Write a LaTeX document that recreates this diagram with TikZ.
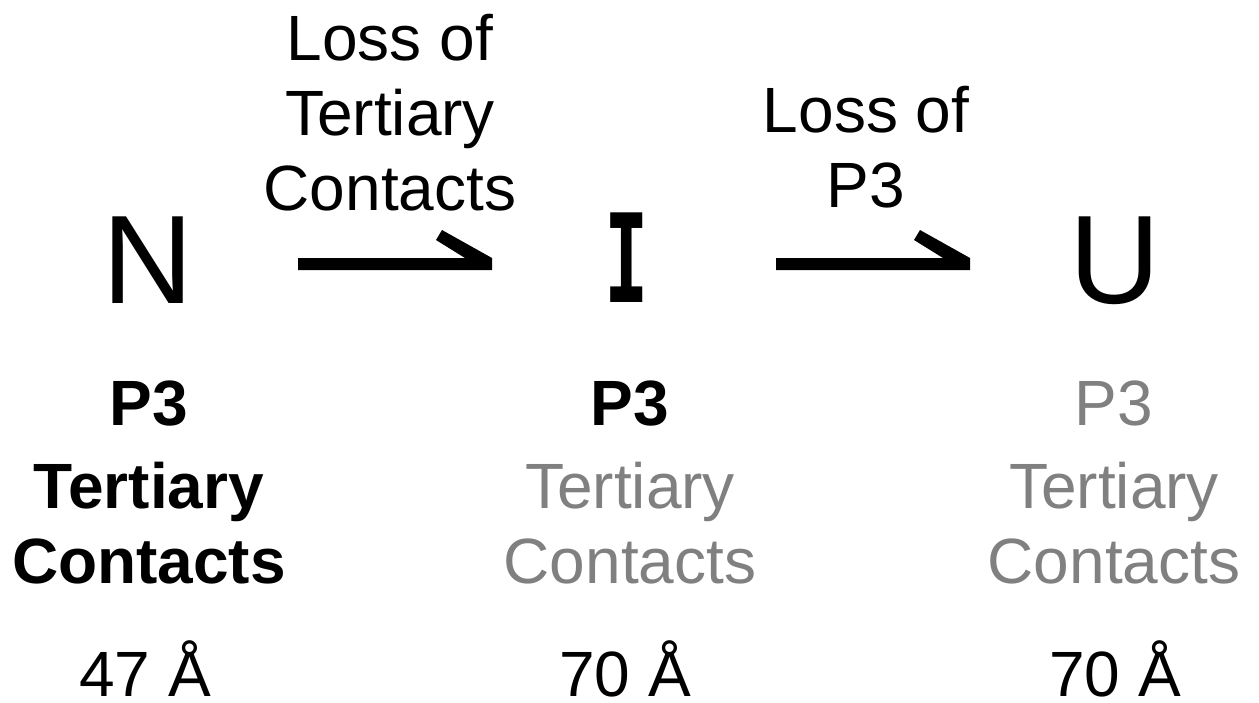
\documentclass[tikz,border=0pt]{standalone}
\usepackage{fontspec}
\setmainfont{Liberation Sans}
\newfontfamily\Ifont[FakeStretch=0.6]{DejaVu Sans Mono}
\usetikzlibrary{calc}
\definecolor{fade}{RGB}{128,128,128}
\begin{document}
\begin{tikzpicture}[x=1pt,y=-1pt,
  big/.style={font=\fontsize{126}{126}\selectfont, inner sep=0pt, anchor=base},
  lab/.style={font=\fontsize{64}{75}\selectfont, align=center, inner sep=0pt, anchor=base},
  harp/.style={fill=black}]
\useasboundingbox (0,0) rectangle (1259,702);
% states
\node[big] (N) at (148,303) {N};
\node[big, font={\Ifont\bfseries\fontsize{123}{123}\selectfont}] (I) at (627,302) {I};
\node[big] (U) at (1115,303) {U};
% transition labels (anchor = baseline of last line)
\node[lab] (t1) at (390,210) {Loss of\\Tertiary\\Contacts};
\node[lab] (t2) at (866,207) {Loss of\\P3};
% arrows
\coordinate (a1s) at (298,264);
\coordinate (a1e) at (492,264);
\coordinate (a2s) at (776,264);
\coordinate (a2e) at (970,264);
\foreach \s/\e in {a1s/a1e,a2s/a2e}{
  \fill[harp] ($(\s)+(0,-6)$) -- ($(\e)+(-27,-6)$) -- ($(\e)+(-56,-24)$) -- ($(\e)+(-50,-34)$)
     -- ($(\e)+(0,-6)$) -- ($(\e)+(0,6)$) -- ($(\s)+(0,6)$) -- cycle;
}
% state descriptions
\node[lab] (dN) at (149,583) {\textbf{P3}\\[8pt]\textbf{Tertiary}\\\textbf{Contacts}};
\node[lab] (dI) at (630,583) {\textbf{P3}\\[8pt]\textcolor{fade}{Tertiary}\\\textcolor{fade}{Contacts}};
\node[lab] (dU) at (1114,583) {\textcolor{fade}{P3}\\[8pt]\textcolor{fade}{Tertiary}\\\textcolor{fade}{Contacts}};
% radii
\node[lab] (rN) at (145,696) {47 Å};
\node[lab] (rI) at (625,696) {70 Å};
\node[lab] (rU) at (1115,696) {70 Å};
\end{tikzpicture}
\end{document}
